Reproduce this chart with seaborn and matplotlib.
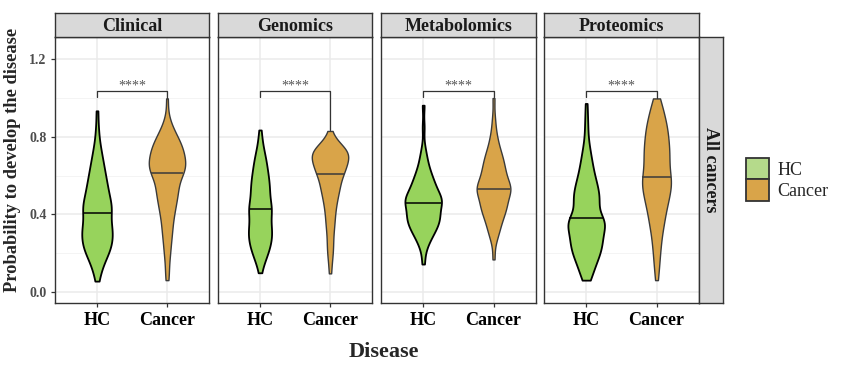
import numpy as np
import pandas as pd
import matplotlib
matplotlib.use("Agg")
import matplotlib.pyplot as plt
from matplotlib.patches import Patch
import seaborn as sns

sns.set_style("white")
plt.rcParams["font.family"] = ["Liberation Serif", "DejaVu Serif"]

# ---------------- data (probability values and how many subjects have each) ----------------
panels = ["Clinical", "Genomics", "Metabolomics", "Proteomics"]
groups = ["HC", "Cancer"]
row_label = "All cancers"
sig_label = "****"

clinical_hc_vals = [0.055, 0.10, 0.15, 0.20, 0.25, 0.30, 0.35, 0.408, 0.45, 0.50, 0.55, 0.60, 0.65, 0.70, 0.75, 0.80, 0.85, 0.934]
clinical_hc_counts = [1, 2, 4, 7, 9, 9, 9, 8, 8, 7, 6, 5, 4, 3, 2, 1, 1, 1]
clinical_cancer_vals = [0.06, 0.10, 0.15, 0.20, 0.25, 0.30, 0.35, 0.40, 0.45, 0.50, 0.55, 0.611, 0.65, 0.70, 0.75, 0.80, 0.85, 0.90, 0.998]
clinical_cancer_counts = [1, 1, 1, 2, 2, 3, 3, 4, 5, 6, 7, 9, 10, 10, 9, 6, 3, 1, 1]

genomics_hc_vals = [0.098, 0.15, 0.20, 0.25, 0.30, 0.35, 0.40, 0.427, 0.45, 0.50, 0.55, 0.60, 0.65, 0.70, 0.75, 0.79, 0.835]
genomics_hc_counts = [1, 3, 6, 8, 9, 8, 6, 4, 6, 7, 7, 6, 5, 4, 2, 1, 1]
genomics_cancer_vals = [0.095, 0.15, 0.20, 0.25, 0.30, 0.35, 0.40, 0.45, 0.50, 0.55, 0.606, 0.65, 0.70, 0.73, 0.76, 0.79, 0.83]
genomics_cancer_counts = [1, 1, 2, 2, 2, 3, 3, 4, 5, 7, 8, 10, 11, 8, 4, 1, 1]

metabolomics_hc_vals = [0.143, 0.20, 0.25, 0.30, 0.35, 0.40, 0.456, 0.50, 0.55, 0.60, 0.65, 0.70, 0.75, 0.85, 0.963]
metabolomics_hc_counts = [1, 1, 3, 6, 9, 10, 11, 9, 7, 5, 3, 2, 1, 1, 1]
metabolomics_cancer_vals = [0.167, 0.25, 0.30, 0.35, 0.40, 0.45, 0.50, 0.528, 0.55, 0.60, 0.65, 0.70, 0.75, 0.80, 0.85, 0.90, 1.0]
metabolomics_cancer_counts = [1, 1, 3, 4, 6, 8, 6, 5, 7, 7, 6, 5, 3, 2, 1, 1, 1]

proteomics_hc_vals = [0.06, 0.10, 0.15, 0.20, 0.25, 0.30, 0.35, 0.379, 0.45, 0.50, 0.55, 0.60, 0.65, 0.70, 0.75, 0.80, 0.85, 0.90, 0.972]
proteomics_hc_counts = [2, 4, 6, 9, 10, 10, 10, 10, 9, 8, 7, 5, 4, 3, 2, 1, 1, 1, 1]
proteomics_cancer_vals = [0.06, 0.10, 0.15, 0.20, 0.25, 0.30, 0.35, 0.40, 0.45, 0.50, 0.55, 0.594, 0.65, 0.70, 0.75, 0.80, 0.85, 0.90, 0.95, 0.998]
proteomics_cancer_counts = [1, 1, 2, 2, 3, 3, 5, 5, 7, 8, 9, 9, 8, 8, 8, 7, 7, 5, 4, 2]

panel_data = {
    "Clinical": ((clinical_hc_vals, clinical_hc_counts), (clinical_cancer_vals, clinical_cancer_counts)),
    "Genomics": ((genomics_hc_vals, genomics_hc_counts), (genomics_cancer_vals, genomics_cancer_counts)),
    "Metabolomics": ((metabolomics_hc_vals, metabolomics_hc_counts), (metabolomics_cancer_vals, metabolomics_cancer_counts)),
    "Proteomics": ((proteomics_hc_vals, proteomics_hc_counts), (proteomics_cancer_vals, proteomics_cancer_counts)),
}
y_ticks = [0.0, 0.4, 0.8, 1.2]
y_tick_labels = ["0.0", "0.4", "0.8", "1.2"]
bracket_y = 1.037

# ---------------- style ----------------
fill_colors = {"HC": "#97D35C", "Cancer": "#D9A449"}
edge_colors = {"HC": "#000000", "Cancer": "#3A3A3A"}
key_colors = {"HC": "#B5DA8B", "Cancer": "#D9A449"}

W, H = 843, 368
fig = plt.figure(figsize=(W / 100, H / 100), dpi=100)


def rect(x0, x1, y0, y1):
    return [x0 / W, 1 - y1 / H, (x1 - x0) / W, (y1 - y0) / H]


panel_x = [(55, 209), (218, 372), (381, 535.7), (544, 698.7)]
p_top, p_bot = 37, 303
s_top = 13

for i, name in enumerate(panels):
    x0, x1 = panel_x[i]
    ax = fig.add_axes(rect(x0, x1, p_top, p_bot))
    (hv, hc_n), (cv, ca_n) = panel_data[name]
    hc = np.repeat(hv, hc_n)
    ca = np.repeat(cv, ca_n)
    df = pd.DataFrame({
        "Disease": ["HC"] * len(hc) + ["Cancer"] * len(ca),
        "prob": np.concatenate([hc, ca]),
    })
    n_before = len(ax.collections)
    sns.violinplot(data=df, x="Disease", y="prob", order=groups, color="white",
                   saturation=1, cut=0, density_norm="area", common_norm=False,
                   width=0.52, inner=None, linewidth=1.1, linecolor="black",
                   bw_adjust=0.62, ax=ax, zorder=3)
    for coll in ax.collections[n_before:]:
        paths = coll.get_paths()
        if not paths:
            continue
        v = paths[0].vertices
        pos = int(round(np.nanmean(v[:, 0])))
        g = groups[pos]
        coll.set_facecolor(fill_colors[g])
        coll.set_edgecolor(edge_colors[g])
        coll.set_linewidth(1.3 if g == "HC" else 1.0)
        vals = df.loc[df["Disease"] == g, "prob"].to_numpy()
        med = np.median(vals)
        right = v[v[:, 0] >= pos]
        left = v[v[:, 0] <= pos]
        ro = np.argsort(right[:, 1])
        lo = np.argsort(left[:, 1])
        xr = np.interp(med, right[ro, 1], right[ro, 0])
        xl = np.interp(med, left[lo, 1], left[lo, 0])
        ax.plot([xl, xr], [med, med], color=edge_colors[g], lw=1.1,
                solid_capstyle="butt", zorder=4)

    # significance bracket
    ax.plot([0, 0, 1, 1], [1.005, bracket_y, bracket_y, ca.max() + 0.003],
            color="#333333", lw=0.9, zorder=4)
    ax.text(0.5, 1.044, sig_label, ha="center", va="baseline", fontsize=10,
            color="#555555")

    ax.set_xlim(-0.6, 1.6)
    ax.set_ylim(-0.058, 1.315)
    ax.set_yticks(y_ticks)
    ax.set_yticks([0.2, 0.6, 1.0], minor=True)
    ax.set_xticks([0, 1])
    ax.set_xticklabels(groups, fontsize=13, fontweight="bold", color="black")
    ax.grid(True, which="major", color="#EBEBEB", lw=1.1, zorder=0)
    ax.grid(True, which="minor", axis="y", color="#F2F2F2", lw=0.6, zorder=0)
    ax.set_axisbelow(True)
    ax.tick_params(axis="x", which="major", length=3.2, width=0.9, color="#333333",
                   pad=3, bottom=True)
    ax.tick_params(which="minor", length=0)
    if i == 0:
        ax.set_yticklabels(y_tick_labels, fontsize=10, fontweight="bold", color="#4D4D4D")
        ax.tick_params(axis="y", which="major", length=3.2, width=0.9,
                       color="#333333", pad=3, left=True)
    else:
        ax.set_yticklabels([])
        ax.tick_params(axis="y", which="major", length=0)
    ax.set_xlabel("")
    ax.set_ylabel("")
    for sp in ax.spines.values():
        sp.set_color("#333333")
        sp.set_linewidth(1.0)
        sp.set_visible(True)

    sax = fig.add_axes(rect(x0, x1, s_top, p_top))
    sax.set_facecolor("#D9D9D9")
    sax.set_xticks([])
    sax.set_yticks([])
    for sp in sax.spines.values():
        sp.set_color("#333333")
        sp.set_linewidth(1.0)
    sax.text(0.5, 0.45, name, ha="center", va="center", fontsize=13,
             fontweight="bold", color="#1A1A1A", transform=sax.transAxes)

rax = fig.add_axes(rect(698.7, 723, p_top, p_bot))
rax.set_facecolor("#D9D9D9")
rax.set_xticks([])
rax.set_yticks([])
for sp in rax.spines.values():
    sp.set_color("#333333")
    sp.set_linewidth(1.0)
rax.text(0.5, 0.5, row_label, ha="center", va="center", rotation=-90, fontsize=13,
         fontweight="bold", color="#1A1A1A", transform=rax.transAxes)

fig.text(384 / W, 1 - 352 / H, "Disease", ha="center", va="center", fontsize=16,
         fontweight="bold")
fig.text(12.5 / W, 1 - 160 / H, "Probability to develop the disease", ha="center",
         va="center", rotation=90, fontsize=13.3, fontweight="bold")

handles = [Patch(facecolor=key_colors[g], edgecolor="#333333", linewidth=1.3, label=g)
           for g in groups]
fig.legend(handles=handles, loc="upper left", bbox_to_anchor=(746 / W, 1 - 158 / H),
           frameon=False, fontsize=13, handlelength=1.3, handleheight=1.45,
           labelspacing=0.0, handletextpad=0.45, borderpad=0, borderaxespad=0)

fig.savefig("out.png", dpi=100)
